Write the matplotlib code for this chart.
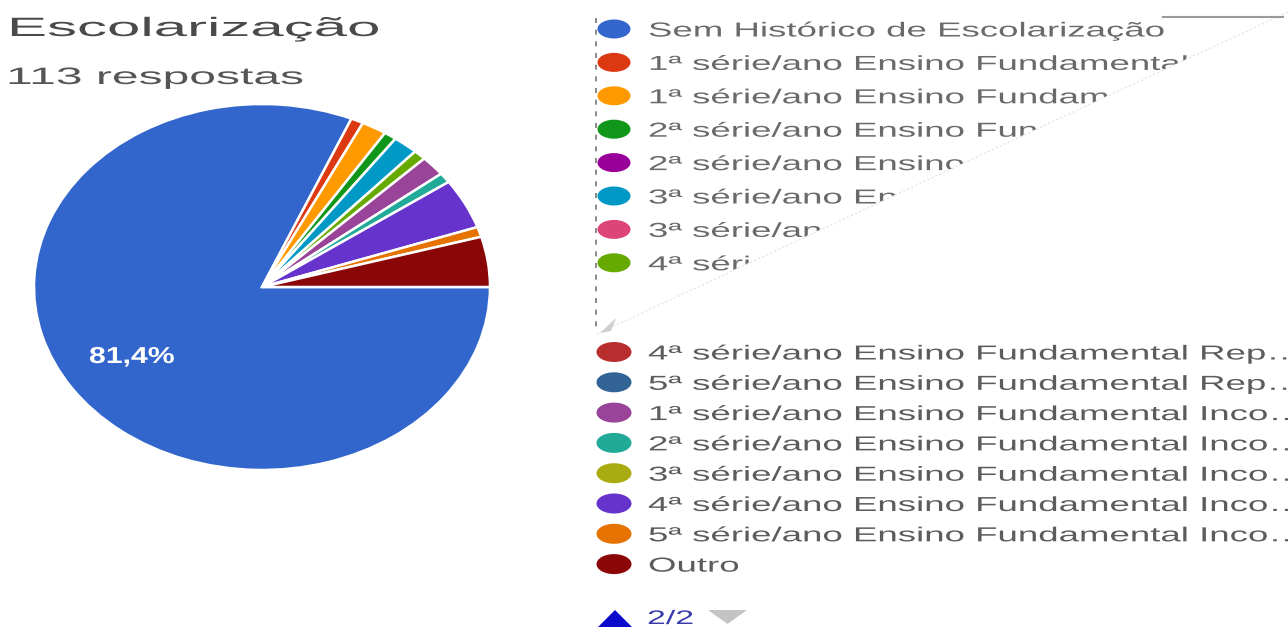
import matplotlib
matplotlib.use("Agg")
import matplotlib.pyplot as plt
from matplotlib.patches import Ellipse, Polygon
from matplotlib.patheffects import AbstractPathEffect
from matplotlib.transforms import Affine2D

plt.rcParams['font.family'] = ['Liberation Sans', 'DejaVu Sans']

title = "Escolarização"
subtitle = "113 respostas"
categories = ["Sem Histórico de Escolarização",
              "1ª série/ano Ensino Fundamental Apr…",
              "1ª série/ano Ensino Fundamental Rep…",
              "2ª série/ano Ensino Fundamental Apr…",
              "2ª série/ano Ensino Fundamental Rep…",
              "3ª série/ano Ensino Fundamental Apr…",
              "3ª série/ano Ensino Fundamental Rep…",
              "4ª série/ano Ensino Fundamental Apr…",
              "4ª série/ano Ensino Fundamental Rep…",
              "5ª série/ano Ensino Fundamental Rep…",
              "1ª série/ano Ensino Fundamental Inco…",
              "2ª série/ano Ensino Fundamental Inco…",
              "3ª série/ano Ensino Fundamental Inco…",
              "4ª série/ano Ensino Fundamental Inco…",
              "5ª série/ano Ensino Fundamental Inco…",
              "Outro"]
counts = [92, 1, 2, 1, 0, 2, 0, 1, 0, 0, 2, 1, 0, 5, 1, 5]
colors = ["#3366cc", "#dc3912", "#ff9900", "#109618", "#990099", "#0099c6",
          "#dd4477", "#66aa00", "#b82e2e", "#316395", "#994499", "#22aa99",
          "#aaaa11", "#6633cc", "#e67300", "#8b0707"]
page = "2/2"

W, H = 1288, 627
fig = plt.figure(figsize=(W / 100, H / 100), dpi=100)
fig.patch.set_facecolor("white")

# pie, squashed into the same box as the rest of the screenshot
pie_ax = fig.add_axes([34 / W, 1 - 470 / H, (490 - 34) / W, (470 - 104) / H])
shown = [(c, col) for c, col in zip(counts, colors) if c > 0]
pie_ax.pie([c for c, _ in shown], colors=[col for _, col in shown],
           startangle=0, counterclock=False, radius=1,
           wedgeprops=dict(edgecolor="white", linewidth=1.8))
pie_ax.set_aspect("auto")
pie_ax.set_xlim(-1, 1)
pie_ax.set_ylim(-1, 1)
pie_ax.axis("off")

# pixel canvas for all the text and legend bits, on top of the pie
canvas = fig.add_axes([0, 0, 1, 1])
canvas.set_xlim(0, W)
canvas.set_ylim(H, 0)
canvas.axis("off")
canvas.set_zorder(3)
renderer = fig.canvas.get_renderer()


class Stretch(AbstractPathEffect):
    """Draw text glyphs widened horizontally around the text origin."""

    def __init__(self, sx):
        super().__init__()
        self.sx = sx

    def draw_path(self, renderer, gc, tpath, affine, rgbFace=None):
        renderer.draw_path(gc, tpath, Affine2D().scale(self.sx, 1) + affine, rgbFace)


def put_text(x, y, s, cap, right=None, sx=None, **kw):
    size = cap / 0.716 * 0.72
    t = canvas.text(x, y, s, fontsize=size, ha="left", va="baseline", **kw)
    if sx is None:
        w = t.get_window_extent(renderer).width
        sx = (right - x) / w
    t.set_path_effects([Stretch(sx)])
    return t


put_text(7, 36, title, 19, right=380, color="#4a4a4a")
put_text(6, 84, subtitle, 17, right=304, color="#555555")

pct = 100 * counts[0] / sum(counts)
put_text(89, 363, f"{pct:.1f}%".replace(".", ","), 16.5, right=175,
         color="white", weight="bold")

# legend: the first page is cut by a diagonal tear
tear = [(597, 334), (W, 12)]
visible = Polygon([(0, 0), (W, 0), tear[1], tear[0], (0, 334)],
                  transform=canvas.transData, fill=False, visible=False)
canvas.add_patch(visible)

probe = canvas.text(0, 0, "4ª série/ano Ensino Fundamental Rep",
                    fontsize=14.5 / 0.716 * 0.72)
leg_sx = (1267 - 648) / probe.get_window_extent(renderer).width
probe.remove()

for i in range(8):
    cy = 29 + 33.4 * i
    canvas.add_patch(Ellipse((614, cy), 33, 19, color=colors[i], lw=0))
    t = put_text(648, cy + 7.5, categories[i], 14.5, sx=leg_sx, color="#6a6a6a")
    t.set_clip_path(visible)
    t.set_clip_on(True)

# white area below the tear
canvas.add_patch(Polygon([tear[0], tear[1], (W, 336), (597, 336)],
                         facecolor="white", edgecolor="none", zorder=5))

for j in range(8, len(categories)):
    cy = 352 + 30.3 * (j - 8)
    canvas.add_patch(Ellipse((614, cy), 35, 20, color=colors[j], lw=0))
    put_text(648, cy + 7.5, categories[j], 14.5, sx=leg_sx, color="#5c5c5c")

# tear edge and scraps around it
canvas.plot([tear[0][0], tear[1][0]], [tear[0][1], tear[1][1]], color="#e2e2e2",
            lw=0.8, ls=(0, (2, 2)), zorder=6)
canvas.plot([1163, 1283], [17, 17], color="#9a9a9a", lw=1.5, zorder=6)
canvas.plot([596.5, 596.5], [18, 333], color="#777777", lw=1.2, ls=(0, (3, 4)), zorder=6)
canvas.add_patch(Polygon([(600, 333), (616, 318), (611, 331)], color="#cfcfcf", lw=0, zorder=6))

# pagination
canvas.add_patch(Polygon([(597, 628), (615, 610), (633, 628)], color="#0a0acc", lw=0))
put_text(647, 624, page, 14, right=694, color="#3a3aaa")
canvas.add_patch(Polygon([(708, 610), (747, 610), (727.5, 624)], color="#c4c4c4", lw=0))

fig.savefig("out.png", dpi=100, facecolor="white")
